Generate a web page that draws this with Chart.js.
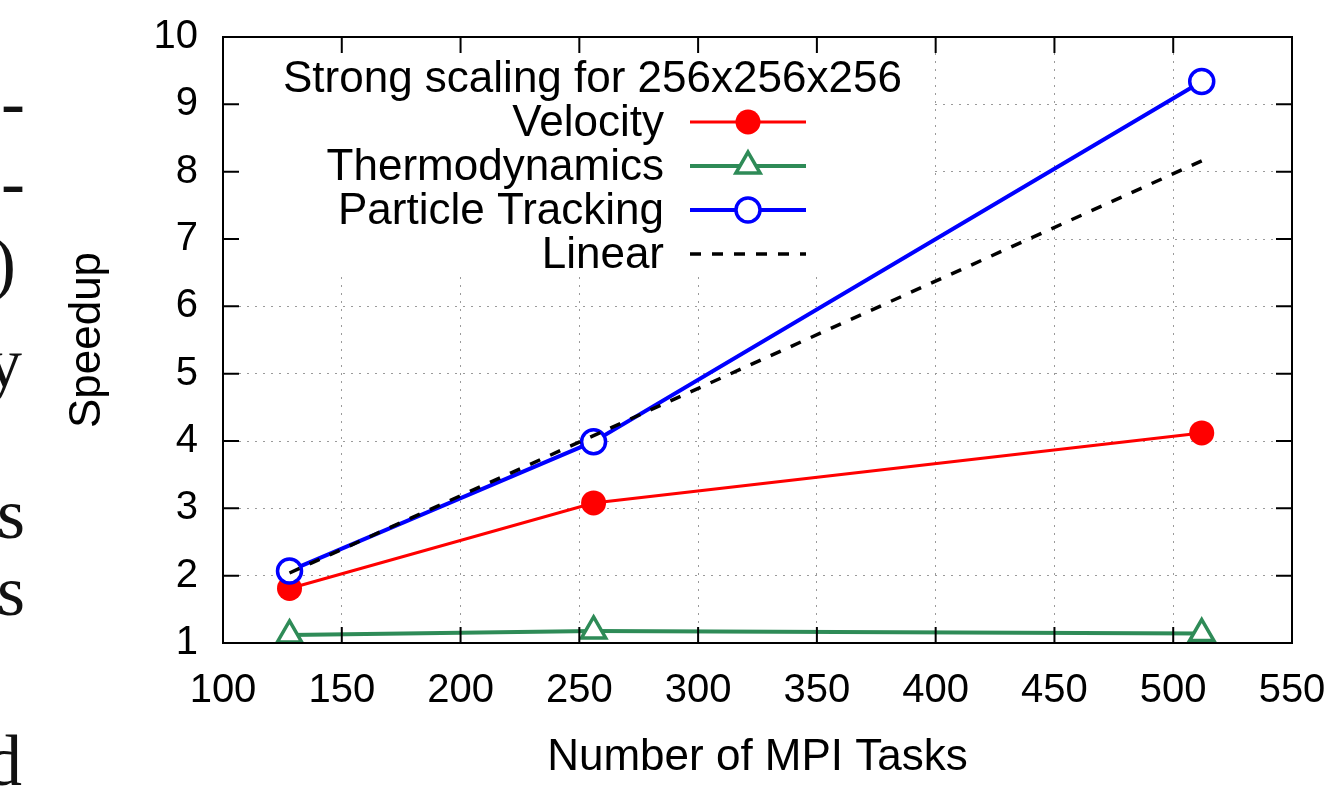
<!DOCTYPE html>
<html>
<head>
<meta charset="utf-8">
<title>Strong scaling for 256x256x256</title>
<script src="https://cdn.jsdelivr.net/npm/chart.js@4.4.0/dist/chart.umd.min.js"></script>
<style>
  html, body { margin: 0; padding: 0; background: #fff; }
  #wrap { position: relative; width: 1339px; height: 788px; overflow: hidden; }
  #wrap canvas { position: absolute; left: 0; top: 0; }
  .frag { position: absolute; font-family: "Liberation Serif", "DejaVu Serif", serif; font-size: 72px; line-height: 1; color: #111; white-space: nowrap; }
</style>
</head>
<body>
<div id="wrap">
  <canvas id="chart" width="1339" height="788"></canvas>
  <!-- bouts de texte de la colonne voisine, coupés par le bord -->
  <div class="frag" style="right:1314px; top:66px">-</div>
  <div class="frag" style="right:1314px; top:146px">-</div>
  <div class="frag" style="right:1323px; top:227px">)</div>
  <div class="frag" style="right:1317px; top:327px">y</div>
  <div class="frag" style="right:1314px; top:478px">s</div>
  <div class="frag" style="right:1314px; top:555px">s</div>
  <div class="frag" style="right:1317px; top:725px">d</div>
</div>
<script>
// données
const tasks = [128, 256, 512];
const velocity = [1.81, 3.08, 4.12];
const thermodynamics = [1.12, 1.18, 1.14];
const particleTracking = [2.07, 3.99, 9.34];
const linear = [2.04, 4.08, 8.16];

const xTicks = [100, 150, 200, 250, 300, 350, 400, 450, 500, 550];
const yTicks = [1, 2, 3, 4, 5, 6, 7, 8, 9, 10];
const seriesNames = ['Velocity', 'Thermodynamics', 'Particle Tracking', 'Linear'];
const legendTitle = 'Strong scaling for 256x256x256';
const xTitle = 'Number of MPI Tasks';
const yTitle = 'Speedup';

const FONT = '"Liberation Sans", Arial, Helvetica, sans-serif';
Chart.defaults.font.family = FONT;
Chart.defaults.color = '#000';

const toPoints = ys => tasks.map((x, i) => ({ x: x, y: ys[i] }));

// cadre + graduations vers l'intérieur (style gnuplot)
const framePlugin = {
    id: 'frame',
    beforeDatasetsDraw(chart) {
        const { ctx, chartArea: a } = chart;
        // la légende masque la grille
        ctx.save();
        ctx.fillStyle = '#fff';
        ctx.fillRect(a.left + 1, a.top + 1, 707, 238);
        ctx.restore();
    },
    afterDatasetsDraw(chart) {
        const { ctx, chartArea: a, scales } = chart;
        ctx.save();
        ctx.strokeStyle = '#000';
        ctx.lineWidth = 2;
        ctx.setLineDash([]);
        const len = 16;
        ctx.beginPath();
        xTicks.forEach(v => {
            const px = scales.x.getPixelForValue(v);
            ctx.moveTo(px, a.bottom); ctx.lineTo(px, a.bottom - len);
            ctx.moveTo(px, a.top); ctx.lineTo(px, a.top + len);
        });
        yTicks.forEach(v => {
            const py = scales.y.getPixelForValue(v);
            ctx.moveTo(a.left, py); ctx.lineTo(a.left + len, py);
            ctx.moveTo(a.right, py); ctx.lineTo(a.right - len, py);
        });
        ctx.stroke();
        ctx.strokeRect(a.left, a.top, a.right - a.left, a.bottom - a.top);

        // légende
        ctx.font = '44px ' + FONT;
        ctx.fillStyle = '#000';
        ctx.textBaseline = 'middle';
        ctx.textAlign = 'left';
        ctx.fillText(legendTitle, a.left + 60, a.top + 43);
        chart.data.datasets.forEach((ds, i) => {
            const y = a.top + 85 + 44 * i;
            ctx.fillStyle = '#000';
            ctx.textAlign = 'right';
            ctx.fillText(ds.label, a.left + 441, y + 2);
            ctx.strokeStyle = ds.borderColor;
            ctx.lineWidth = ds.borderWidth;
            ctx.setLineDash(ds.borderDash || []);
            ctx.beginPath();
            ctx.moveTo(a.left + 467, y);
            ctx.lineTo(a.left + 583, y);
            ctx.stroke();
            ctx.setLineDash([]);
            if (ds.pointRadius > 0) {
                ctx.fillStyle = ds.pointBackgroundColor;
                ctx.lineWidth = ds.pointBorderWidth;
                Chart.helpers.drawPoint(ctx, {
                    pointStyle: ds.pointStyle,
                    radius: ds.pointRadius,
                    borderWidth: ds.pointBorderWidth,
                    rotation: 0
                }, a.left + 525, y);
            }
        });
        ctx.restore();
    }
};

new Chart(document.getElementById('chart'), {
    type: 'line',
    data: {
        datasets: [
            {
                label: seriesNames[0],
                data: toPoints(velocity),
                borderColor: '#ff0000',
                borderWidth: 3,
                pointStyle: 'circle',
                pointRadius: 12.5,
                pointBorderWidth: 0,
                pointBackgroundColor: '#ff0000',
                pointBorderColor: '#ff0000',
                order: 4
            },
            {
                label: seriesNames[1],
                data: toPoints(thermodynamics),
                borderColor: '#2e8b57',
                borderWidth: 4,
                pointStyle: 'triangle',
                pointRadius: 14,
                pointBorderWidth: 3.5,
                pointBackgroundColor: '#ffffff',
                pointBorderColor: '#2e8b57',
                order: 3
            },
            {
                label: seriesNames[2],
                data: toPoints(particleTracking),
                borderColor: '#0000ff',
                borderWidth: 4,
                pointStyle: 'circle',
                pointRadius: 12,
                pointBorderWidth: 3.5,
                pointBackgroundColor: '#ffffff',
                pointBorderColor: '#0000ff',
                order: 2
            },
            {
                label: seriesNames[3],
                data: toPoints(linear),
                borderColor: '#000000',
                borderWidth: 3.5,
                borderDash: [11, 11],
                pointRadius: 0,
                order: 1
            }
        ]
    },
    options: {
        responsive: false,
        devicePixelRatio: 1,
        animation: false,
        events: [],
        layout: { padding: { top: 37, right: 47, left: 0, bottom: 0 } },
        elements: { line: { tension: 0 } },
        plugins: { legend: { display: false }, tooltip: { enabled: false } },
        scales: {
            x: {
                type: 'linear',
                min: 100,
                max: 550,
                afterBuildTicks: s => { s.ticks = xTicks.map(v => ({ value: v })); },
                afterFit: s => { s.height = 145; s.paddingLeft = 0; s.paddingRight = 0; },
                ticks: { font: { size: 40 }, color: '#000', padding: 24, maxRotation: 0, autoSkip: false },
                grid: { color: '#9a9a9a', lineWidth: 1, drawTicks: false },
                border: { display: false, dash: [2, 6] },
                title: { display: true, text: xTitle, color: '#000', font: { size: 44 }, padding: { top: 0, bottom: 4 } }
            },
            y: {
                type: 'linear',
                min: 1,
                max: 10,
                afterBuildTicks: s => { s.ticks = yTicks.map(v => ({ value: v })); },
                afterFit: s => { s.width = 223; s.paddingTop = 0; s.paddingBottom = 0; },
                ticks: { font: { size: 40 }, color: '#000', padding: 25, autoSkip: false },
                grid: { color: '#9a9a9a', lineWidth: 1, drawTicks: false },
                border: { display: false, dash: [2, 6] },
                title: { display: true, text: yTitle, color: '#000', font: { size: 44 }, padding: { top: 61, bottom: 0 } }
            }
        }
    },
    plugins: [framePlugin]
});
</script>
</body>
</html>
